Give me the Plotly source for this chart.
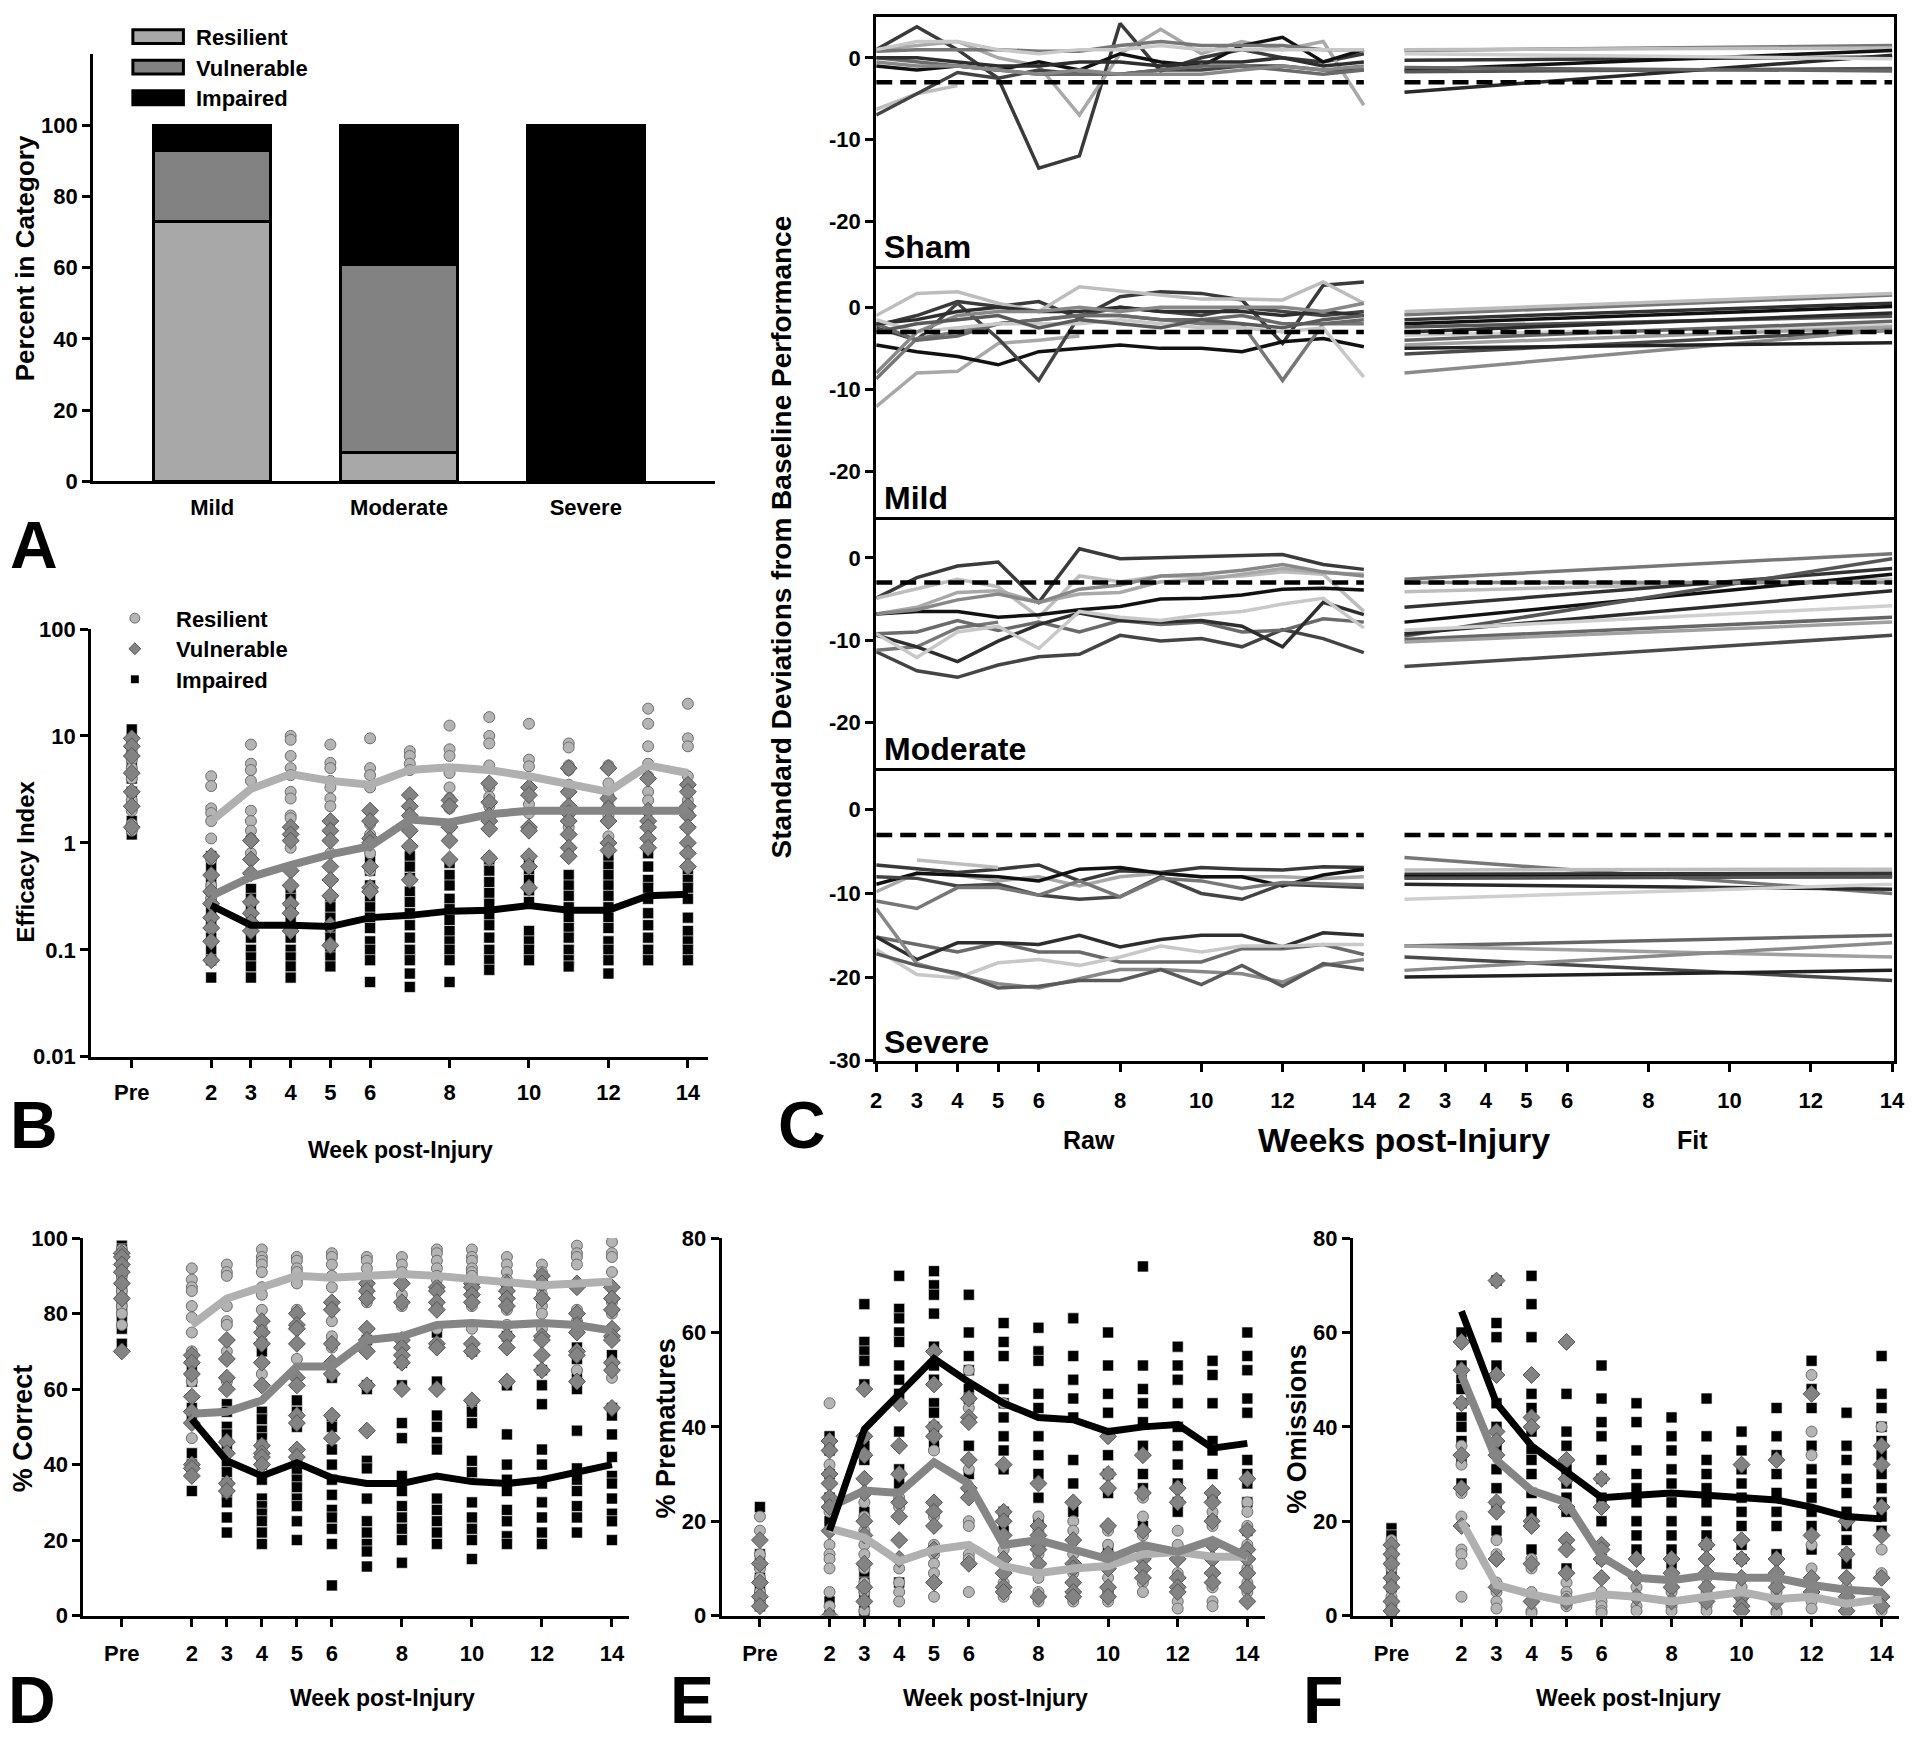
import plotly.graph_objects as go

W, H = 1920, 1739

# ======================= DATA =======================
# ---- Panel A: percent of animals per outcome category
injury_groups = ["Mild", "Moderate", "Severe"]
pct_resilient = [73, 8, 0]
pct_vulnerable = [20, 53, 0]
pct_impaired = [7, 39, 100]

# ---- shared week axis (0 = "Pre")
week_ticks = [0, 2, 3, 4, 5, 6, 8, 10, 12, 14]
week_ticktext = ["Pre", "2", "3", "4", "5", "6", "8", "10", "12", "14"]
weeks_all = [0, 2, 3, 4, 5, 6, 7, 8, 9, 10, 11, 12, 13, 14]
weeks_post = [2, 3, 4, 5, 6, 7, 8, 9, 10, 11, 12, 13, 14]

# ---- Panel B: Efficacy index (log)
b_mean_res = [1.6, 3.2, 4.4, 3.8, 3.5, 4.8, 5.1, 4.8, 4.2, 3.6, 3.0, 5.3, 4.5]
b_mean_vul = [0.32, 0.48, 0.62, 0.78, 0.93, 1.65, 1.55, 1.85, 2.0, 2.0, 2.0, 2.0, 2.0]
b_mean_imp = [0.26, 0.17, 0.17, 0.165, 0.2, 0.21, 0.23, 0.235, 0.26, 0.235, 0.235, 0.32, 0.33]
b_res = [
    [9, 7, 6, 5, 4, 3, 2.5, 2, 1.5, 1.3],
    [4.2, 3.4, 2.1, 1.9, 1.6, 1.1, 0.7, 0.4, 0.3],
    [8.3, 5.5, 4.8, 3.8, 2.0, 1.6, 1.3, 1.1, 0.8],
    [10, 9.2, 6.5, 5, 4.3, 3, 2.6, 1.8, 1.7, 1.2, 0.9],
    [8.3, 5.6, 5, 3.8, 3.3, 2.6, 2.2, 0.8],
    [9.5, 5, 4.3, 3.3, 1.5, 1.2, 0.8, 0.55],
    [7.2, 6.5, 5.5, 4.8, 2.8, 2.2],
    [12.5, 7.5, 6.5, 4.5, 3.3, 2.6, 2.1],
    [15, 10, 8.5, 5.3, 3.3, 2.7, 2.2],
    [13, 6, 5.2, 3.3, 2.8, 2.3, 1.9],
    [8.5, 7.8, 5.3, 4.8, 3.5, 2.2, 1.4],
    [5.3, 3.6, 2.8, 2.2, 1.8, 1.15],
    [18, 13, 8, 5.5, 4.2, 3, 2.5],
    [20, 9.5, 8, 4.2, 3.5, 2.5, 1.9],
]
b_vul = [
    [9.5, 8, 6.5, 4.5, 3, 2.2, 1.4],
    [0.75, 0.5, 0.35, 0.27, 0.2, 0.16, 0.12, 0.08],
    [1.05, 0.7, 0.52, 0.28, 0.22, 0.18, 0.15],
    [1.4, 1.2, 1.05, 0.55, 0.4, 0.27, 0.22, 0.15],
    [1.6, 1.3, 1.05, 0.6, 0.45, 0.32, 0.17, 0.11],
    [2.0, 1.6, 1.1, 1.0, 0.6, 0.38, 0.35],
    [2.8, 2.2, 1.8, 1.3, 0.93, 0.45],
    [2.5, 2.2, 1.4, 1.05, 0.7],
    [3.6, 2.4, 1.8, 1.6, 1.35, 0.72],
    [3.3, 2.8, 1.4, 1.3, 0.75, 0.6, 0.38],
    [5, 3, 2.2, 1.9, 1.6, 1.2, 0.9, 0.75],
    [5, 2.6, 2.1, 1.6, 1.0, 0.85],
    [4, 2, 1.6, 1.4, 1.1, 0.9],
    [3.5, 3, 2.2, 1.8, 1.4, 1.0, 0.8, 0.6],
]
b_imp = [
    [11.5, 9, 7, 5.5, 4, 3, 2.2, 1.6, 1.2],
    [0.75, 0.6, 0.45, 0.35, 0.28, 0.22, 0.17, 0.13, 0.1, 0.08, 0.055],
    [0.37, 0.3, 0.25, 0.2, 0.16, 0.13, 0.1, 0.085, 0.07, 0.055],
    [0.35, 0.3, 0.25, 0.2, 0.16, 0.13, 0.1, 0.085, 0.07, 0.055],
    [0.3, 0.25, 0.2, 0.16, 0.13, 0.1, 0.085, 0.07],
    [0.7, 0.55, 0.4, 0.3, 0.25, 0.2, 0.16, 0.12, 0.1, 0.08, 0.05],
    [0.75, 0.6, 0.47, 0.35, 0.28, 0.22, 0.17, 0.13, 0.1, 0.08, 0.06, 0.045],
    [0.65, 0.5, 0.4, 0.3, 0.24, 0.19, 0.15, 0.12, 0.1, 0.08, 0.05],
    [0.7, 0.55, 0.43, 0.34, 0.27, 0.21, 0.17, 0.13, 0.1, 0.08, 0.065],
    [0.7, 0.55, 0.45, 0.36, 0.28, 0.15, 0.12, 0.1, 0.08],
    [0.5, 0.4, 0.32, 0.25, 0.2, 0.16, 0.13, 0.1, 0.08, 0.07],
    [0.75, 0.6, 0.5, 0.4, 0.32, 0.25, 0.2, 0.16, 0.12, 0.1, 0.08, 0.06],
    [0.8, 0.6, 0.45, 0.38, 0.3, 0.22, 0.17, 0.13, 0.1, 0.08],
    [0.55, 0.45, 0.38, 0.3, 0.2, 0.15, 0.12, 0.1, 0.08],
]

# ---- Panel D: % Correct
d_mean_res = [77, 84, 87, 90, 89.5, 90, 90.5, 90, 89, 88, 87.5, 88, 88.5]
d_mean_vul = [53.5, 54, 57, 66, 66, 73, 74, 77, 77.5, 77, 77.5, 77, 75.5]
d_mean_imp = [52, 41, 37, 40.5, 36.5, 35, 35, 37, 35.5, 35, 36, 38, 40]
d_res = [
    [97, 96, 95, 94, 93, 92, 91, 90, 88, 86, 84, 82, 80, 77],
    [92, 89, 87, 86, 82, 79, 75, 70, 68, 62, 47],
    [93, 91, 90, 82, 78, 77, 70, 68, 62, 60],
    [97, 95, 94, 93, 91, 87, 85, 81, 78, 76, 67, 64, 61],
    [95, 94, 92, 91, 89, 88, 81, 80, 68, 63],
    [96, 95, 93, 90, 87, 82, 78, 74, 71, 67, 64],
    [95, 94, 92, 87, 85, 83],
    [95, 93, 91, 85, 83, 82],
    [97, 96, 94, 92, 90, 89, 86, 82, 76],
    [97, 95, 94, 92, 91, 90, 88, 86, 83, 82, 76],
    [95, 93, 91, 89, 87, 85, 83, 81, 77],
    [93, 91, 89, 87, 85, 82, 80, 76],
    [98, 96, 95, 93, 88, 87, 81, 78, 75, 65, 62],
    [99, 96, 95, 91, 87, 83, 80, 76, 73, 66, 63],
]
d_vul = [
    [96, 95, 93, 91, 88, 84, 70],
    [69, 67, 64, 58, 54, 51, 40, 39, 37],
    [73, 68, 63, 60, 46, 43, 35, 33],
    [78, 75, 72, 67, 61, 45, 43, 42, 40],
    [80, 77, 76, 72, 63, 61, 53, 51, 44, 42],
    [83, 81, 72, 67, 64, 53, 47],
    [88, 86, 84, 76, 73, 70, 61, 49],
    [88, 83, 73, 71, 69, 67, 60],
    [87, 86, 83, 81, 72, 71, 60],
    [88, 87, 85, 83, 72, 70, 57],
    [88, 86, 84, 82, 74, 71, 62],
    [90, 88, 84, 74, 73, 69, 65],
    [88, 87, 80, 77, 75, 70, 69, 62],
    [87, 84, 81, 76, 74, 73, 67, 65, 55],
]
d_imp = [
    [98, 97, 96, 95, 94, 92, 90, 88, 86, 84, 82, 80, 78, 76, 72],
    [65, 62, 55, 52, 43, 40, 33],
    [56, 54, 50, 48, 45, 40, 38, 35, 32, 30, 26, 22],
    [72, 70, 54, 52, 49, 47, 45, 43, 40, 36, 31, 29, 27, 25, 22, 19],
    [57, 54, 50, 40, 38, 36, 34, 31, 29, 25, 20],
    [72, 63, 52, 50, 44, 40, 36, 32, 28, 26, 23, 19, 8],
    [73, 61, 60, 41, 39, 31, 25, 22, 19, 17, 13],
    [67, 61, 51, 47, 37, 33, 29, 26, 23, 20, 14],
    [75, 62, 53, 50, 46, 44, 31, 28, 25, 22, 19],
    [70, 56, 54, 51, 41, 38, 30, 26, 23, 20, 15],
    [74, 61, 48, 40, 36, 33, 28, 25, 21, 19],
    [65, 61, 56, 44, 40, 35, 30, 26, 22, 19],
    [71, 68, 64, 60, 49, 39, 36, 33, 29, 26, 22],
    [69, 66, 55, 53, 48, 42, 37, 35, 31, 27, 25, 20],
]

# ---- Panel E: % Prematures
e_mean_res = [18.5, 16.5, 11.5, 14, 15, 10.5, 9, 10, 10.5, 13, 13.5, 12.5, 12.5]
e_mean_vul = [23, 26.5, 26, 32.5, 28, 15, 16, 14, 12, 15, 13.5, 16, 12.5]
e_mean_imp = [18, 39.5, 47, 54.5, 49.5, 45, 42, 41.5, 39, 40, 40.5, 35.5, 36.5]
e_res = [
    [21, 18, 13, 10, 8, 5, 3, 2],
    [45, 32, 22, 15, 13, 12, 10, 5, 2, 0],
    [38, 24, 21, 18, 15, 13, 10, 7, 5, 3, 1],
    [25, 23, 12, 10, 7, 5, 3],
    [35, 21, 15, 13, 11, 9, 7, 4],
    [52, 44, 31, 20, 19, 13, 12, 5],
    [45, 14, 9, 7, 6, 4],
    [21, 18, 16, 13, 8, 5, 3],
    [20, 18, 16, 13, 9, 7, 4, 3],
    [18, 15, 12, 8, 5, 4, 3],
    [25, 21, 17, 12, 10, 7, 5],
    [18, 15, 12, 9, 3, 1.5],
    [22, 19, 15, 12, 6, 3, 2],
    [24, 22, 19, 15, 10, 7, 5, 3],
]
e_vul = [
    [16, 11, 7, 4, 2],
    [37, 35, 30, 28, 25, 23, 18, 0],
    [48, 38, 34, 29, 26, 20, 17, 11, 6, 3],
    [45, 36, 30, 24, 21, 16, 12],
    [56, 49, 40, 38, 24, 22, 19, 14, 7],
    [46, 42, 41, 33, 27, 25, 11],
    [32, 22, 20, 17, 12, 9, 6, 5],
    [28, 19, 17, 15, 14, 11, 4],
    [24, 16, 11, 10, 7, 5, 4],
    [38, 30, 27, 19, 13, 10, 6, 4],
    [34, 26, 18, 14, 12, 10, 8],
    [27, 24, 12, 8, 6, 5],
    [26, 24, 20, 15, 12, 9, 7],
    [29, 18, 14, 12, 9, 6, 3],
]
e_imp = [
    [23, 13, 11, 8, 6, 4, 2],
    [38, 35, 30, 25, 20, 3, 0],
    [66, 58, 56, 54, 49, 36, 33, 22, 9, 7, 4, 1, 0],
    [72, 65, 63, 60, 58, 53, 50, 47, 39, 31, 28, 7],
    [73, 70, 68, 64, 57, 53, 50, 45, 43, 40, 36],
    [68, 60, 55, 52, 48, 46, 36, 30],
    [62, 58, 55, 48, 45, 42, 38, 35, 31, 22, 18],
    [61, 56, 54, 47, 44, 38, 34, 30, 25, 20],
    [63, 55, 50, 46, 42, 33, 28, 22],
    [60, 53, 47, 43, 34, 30, 26, 14],
    [74, 53, 48, 45, 41, 36, 30, 27, 19],
    [57, 53, 50, 45, 40, 36, 32, 28, 24, 22],
    [54, 51, 45, 37, 35, 30, 25, 20],
    [60, 55, 52, 46, 43, 33, 30, 28, 24, 18],
]

# ---- Panel F: % Omissions
f_mean_res = [20, 6.5, 4.5, 3, 4.5, 4, 3, 4, 5, 3.5, 4, 2.5, 3.5]
f_mean_vul = [51, 33, 26.5, 24, 12.5, 8, 7.5, 8.5, 8, 8, 6.5, 5.5, 5]
f_mean_imp = [64.5, 45, 36, 30.5, 25, 25.5, 26, 25.5, 25, 24.5, 23, 21, 20.5]
f_res = [
    [16, 14, 12, 10, 8, 6, 4, 2, 1],
    [52, 36, 32, 26, 21, 19, 14, 13, 11, 4],
    [16, 13, 12, 7, 5, 3, 1.5],
    [12, 10, 5, 3, 1, 0.5],
    [7, 5, 4, 2.5, 2],
    [5, 4, 3, 2, 1, 0.5],
    [6, 4, 2, 1],
    [5, 3, 2, 1],
    [8, 5, 2, 1],
    [8, 6, 3, 1.5],
    [7, 5, 3, 1, 0.5],
    [51, 39, 34, 15, 10, 8, 5, 3, 1.5],
    [6, 4, 3, 2, 1],
    [40, 17, 14, 9, 4, 2, 1],
]
f_vul = [
    [15, 13, 11, 8, 6, 3, 1],
    [58, 52, 45, 34, 27, 19],
    [71, 51, 39, 37, 34, 24, 22, 12, 6],
    [51, 42, 40, 20, 19, 11, 3],
    [58, 33, 29, 23, 16, 14, 9, 3],
    [29, 23, 15, 14, 12, 8],
    [12, 8, 4],
    [12, 9, 6, 3],
    [15, 12, 9, 6, 3],
    [32, 16, 12, 8, 4, 2, 1],
    [33, 12, 9, 6, 3],
    [47, 17, 8, 5],
    [20, 13, 8, 4, 1],
    [36, 32, 23, 17, 8, 4, 2],
]
f_imp = [
    [18.5, 17, 15, 12, 9, 6, 3, 1],
    [60, 53, 50, 48, 45, 42, 40, 37, 33, 28],
    [71, 62, 59, 53, 45, 40, 36, 31, 27, 23, 18],
    [72, 66, 59, 47, 44, 39, 35, 33, 30, 26, 22, 14],
    [47, 39, 36, 31, 28, 25, 22, 10],
    [53, 46, 41, 38, 33, 29, 25, 20, 12],
    [45, 41, 35, 30, 27, 24, 20, 17, 14],
    [42, 38, 35, 31, 28, 24, 20, 17, 14, 11],
    [46, 38, 33, 30, 27, 24, 20, 17, 15],
    [39, 35, 31, 28, 25, 22, 19, 15, 12],
    [44, 38, 34, 30, 26, 22, 19, 13],
    [54, 48, 44, 36, 31, 28, 25, 22, 19, 14],
    [43, 36, 33, 29, 26, 22, 19, 16, 13, 11],
    [55, 47, 44, 40, 37, 34, 30, 27, 24, 21, 18],
]

# ---- Panel C: SD from baseline, individual animals (raw weeks 2..14, and linear fits)
c_weeks = [2, 3, 4, 5, 6, 7, 8, 9, 10, 11, 12, 13, 14]
c_fit_weeks = [2, 14]
c_threshold = -3
N = None
sham_raw = [
    [1, 3.8, 1, -2.5, -13.5, -12, 4.2, -1.6, 0, 1, 0, -0.5, 0.5],
    [-6.3, -4.4, -3.4, N, N, N, N, N, N, N, N, N, N],
    [1, 1.5, 2, 0, -1, -7, 0.5, 3.5, 0.5, 2, 1, 2, -5.8],
    [-1, -1.5, -1, -1.5, -0.5, -1.5, 0.5, -0.5, -1, 1.5, 2.5, -0.5, 1],
    [-7, -4.4, -1.8, -2.5, -1.5, -2, -2, -1.5, -1.5, -1, -1, -1.5, -1.5],
    [0.8, 1, 1, 1, 0.8, 0.8, 1.5, 2, 1.5, 1.5, 1.5, 1, 1],
    [0, -0.5, -1, -1.5, -2, -2, -2, -1.5, -1, -1, -1.5, -2, -1.5],
    [0, 0, -0.5, -1, -1, -0.5, -0.5, -1, -0.5, -0.5, 0, -1, -0.5],
    [1, 2, 2, 1, 0.5, 1, 1, 1.5, 1, 1, 1, 1, 1],
    [-0.5, -1, -1, -1.5, -2, -1.5, -2, -2, -2, -1.5, -1, -1.5, -1],
]
sham_fit = [[0.9, 1.5], [1.0, 1.2], [-0.3, 0.1], [-1.5, 0.9], [-1.7, -1.3], [-4.2, 0.3], [0.5, -0.1], [-1.2, -1.6]]
mild_raw = [
    [-2.2, -1, 0.7, 0.1, 0.7, -1.3, 1.3, 1.9, 1.7, 0.9, -4.4, 2.7, 3.1],
    [-1, 1.7, 1.9, 0.5, -0.5, 2.5, 2, 1.5, 1, 1, 0.9, 3.1, 0.5],
    [-12.1, -8, -7.8, -4.4, -4, -3.5, N, N, N, N, N, N, N],
    [-4.6, -5.4, -6, -7, -5.4, -5, -4.6, -5, -5, -5.4, -4.2, -3.8, -4.8],
    [-2.5, -4, 0.5, -3.8, -8.9, -1, 0, -0.5, -1, 0, -0.5, -1, -0.5],
    [-8.7, -3.8, -3, -2, -1.5, -1, -1, -1.5, -2, -2, -8.9, -2, -2],
    [-2, -4, -3.5, -2, -1.5, -1, -1, -1.5, -1.5, -1, -2, -2, -1.5],
    [-2, -1.5, -0.5, 0, -0.5, -0.5, 0, -0.5, -0.5, -0.5, -1, -0.5, -1],
    [-1.5, -3, -2.5, -2, -2, -2, -1.5, -2, -2.5, -2.5, -3, -2.5, -8.5],
    [-8, -3, -1, -0.5, -0.5, 0, -0.5, 0, 0, 0, 0, -0.5, 0.5],
    [-3, -2, -1.5, -1, -2.5, -1.5, -2, -2.5, -1.5, -2, -2.5, -1.5, -1],
]
mild_fit = [[-0.9, 1.5], [-0.5, 1.7], [-1.5, 0.5], [-2, 0.1], [-2.4, -1.1], [-3, -0.7], [-3.4, -2.2],
            [-4, -1.7], [-4.6, -2.4], [-5.7, -2.8], [-8, -2.7], [-5, -4.3]]
mod_raw = [
    [-4.9, -2.4, -1, -0.5, -5.4, 1.1, -0.1, 0, 0.1, 0.2, 0.4, -0.8, -1.4],
    [-4.9, -3.8, -2.6, -3.5, -7.2, -2.2, -2.9, -2.2, -2.4, -2.2, -1.7, -2, -6.5],
    [-6.8, -6, -4.2, -4, -5.4, -4.4, -4.2, -2.9, -2.7, -2, -1.3, -1.8, -2],
    [-6.8, -6.5, -6.5, -7.2, -6.9, -6.3, -5.9, -5, -4.9, -4.5, -3.8, -3.7, -3.9],
    [-11.4, -13.7, -14.5, -13, -12, -11.7, -9.4, -10.1, -9.8, -10.8, -8.7, -9.8, -11.5],
    [-11.2, -10.8, -8.5, -7.8, N, N, N, N, N, N, N, N, N],
    [-9.2, -9, -7.6, -8.8, -7.8, -9, -7.6, -8.1, -7.8, -9, -8.8, -7.4, -7.8],
    [-9.4, -10.8, -12.6, -10.1, -8.1, -6.7, -7.6, -7.8, -7.6, -8.3, -10.8, -5.4, -6.9],
    [-9.2, -12.1, -9, -8.3, -11, -6.5, -7.2, -7.6, -6.9, -6.5, -5.6, -4.9, -8.5],
    [-6.8, -6.3, -5.1, -4.4, -5.4, -3.8, -3.3, -2.2, -2, -1.5, -0.8, -1.7, -2.2],
]
mod_fit = [[-2.6, 0.5], [-4.1, -2.6], [-6, -1.3], [-7.8, -2], [-9.5, -0.1], [-9.2, -4],
           [-8.8, -5.8], [-9.9, -7.2], [-10.2, -7.8], [-13.2, -9.4], [-3, -3]]
sev_raw = [
    [-6.6, -7, -7.5, -7.1, -6.6, -8.5, -7.3, -7.5, -6.9, -7.1, -7.2, -6.8, -6.9],
    [N, -6, -6.4, -6.9, N, N, N, N, N, N, N, N, N],
    [-9.8, -7.6, -7.8, -8.5, -8, -9.1, -8, -7.6, -8, -8, -8, -8.2, -8],
    [-8.9, -7.6, -7.8, -8, -8.5, -7.1, -6.9, -7.6, -8, -8, -9.1, -7.8, -7.1],
    [-8, -8.2, -9.1, -8.9, -10.2, -10.7, -10.4, -8, -10, -10.7, -8.9, -9.1, -9.3],
    [-10.9, -11.8, -9.3, -9.3, -10.2, -8.5, -10.4, -8.2, -8.5, -9.4, -8.7, -8.9, -9],
    [-15.2, -16.1, -17, -15.9, -17, -17, -18.2, -18.2, -18.2, -16.6, -16.6, -16.1, -17.3],
    [-15.2, -17.9, -15.9, -15.9, -16.1, -15, -16.4, -15.5, -15, -15, -16.4, -14.7, -15],
    [-16.7, -19.7, -20.1, -18.3, -17.9, -18.6, -17.6, -16.3, -17, -16.3, -16.3, -16.1, -16.1],
    [-11.8, -18.4, -19.7, -20.8, -21.3, -20.2, -19.1, -19.1, -19.4, -19.6, -20.6, -18.6, -17.9],
    [-17.2, -18.6, -19.5, -21.3, -21.1, -20.4, -20.4, -19.1, -20.9, -18.6, -21.1, -18.4, -19.1],
]
sev_fit = [[-5.7, -10], [-7.2, -7.1], [-7.7, -7.6], [-8, -8], [-8.2, -8], [-8.9, -9.5], [-10.7, -8.9],
           [-16.3, -15], [-16.3, -17.6], [-17.6, -20.4], [-19.2, -15.9], [-20, -19.2]]

# ======================= STYLE =======================
FONT = "Liberation Sans, Arial, sans-serif"
RES_FILL, RES_EDGE, RES_LINE = "#b4b4b4", "#6e6e6e", "#b0b0b0"
VUL_FILL, VUL_EDGE, VUL_LINE = "#838383", "#555555", "#858585"
IMP = "#000000"
C_OFF = 13.0  # horizontal offset of the "Fit" block on panel C's x axis
raw_cols = ["#3a3a3a", "#bdbdbd", "#a8a8a8", "#111111", "#444444", "#777777",
            "#6a6a6a", "#2e2e2e", "#c8c8c8", "#888888", "#5a5a5a", "#999999"]
fit_cols = ["#777777", "#bdbdbd", "#333333", "#111111", "#555555", "#2a2a2a",
            "#cfcfcf", "#666666", "#a0a0a0", "#4a4a4a", "#8a8a8a", "#222222"]


def fx(p):
    return p / W


def fy(p):
    return 1 - p / H


fig = go.Figure()

# ---------------- Panel A ----------------
cat_x = list(range(len(injury_groups)))
for vals, col in [(pct_resilient, "#a8a8a8"), (pct_vulnerable, "#828282"), (pct_impaired, "#000000")]:
    fig.add_trace(go.Bar(x=cat_x, y=vals, width=0.625, marker=dict(color=col, line=dict(color="black", width=3)),
                         xaxis="x", yaxis="y", showlegend=False, hoverinfo="skip"))


# ---------------- scatter panels ----------------
def add_scatter_panel(res, vul, imp, m_res, m_vul, m_imp, xa, ya, msize=11):
    def flat(pts):
        xs, ys = [], []
        for w, vals in zip(weeks_all, pts):
            xs.extend([w] * len(vals))
            ys.extend(vals)
        return xs, ys
    x, y = flat(imp)
    fig.add_trace(go.Scatter(x=x, y=y, mode="markers", xaxis=xa, yaxis=ya, showlegend=False, hoverinfo="skip",
                             marker=dict(symbol="square", size=msize, color=IMP,
                                         line=dict(color="white", width=0.6))))
    x, y = flat(res)
    fig.add_trace(go.Scatter(x=x, y=y, mode="markers", xaxis=xa, yaxis=ya, showlegend=False, hoverinfo="skip",
                             marker=dict(symbol="circle", size=msize, color=RES_FILL,
                                         line=dict(color=RES_EDGE, width=1))))
    x, y = flat(vul)
    fig.add_trace(go.Scatter(x=x, y=y, mode="markers", xaxis=xa, yaxis=ya, showlegend=False, hoverinfo="skip",
                             marker=dict(symbol="diamond", size=msize + 2, color=VUL_FILL,
                                         line=dict(color=VUL_EDGE, width=1))))
    for m, col, wd in [(m_res, RES_LINE, 8), (m_vul, VUL_LINE, 8), (m_imp, IMP, 7)]:
        fig.add_trace(go.Scatter(x=weeks_post, y=m, mode="lines", xaxis=xa, yaxis=ya, showlegend=False,
                                 hoverinfo="skip", line=dict(color=col, width=wd)))


add_scatter_panel(b_res, b_vul, b_imp, b_mean_res, b_mean_vul, b_mean_imp, "x2", "y2", msize=11)
add_scatter_panel(d_res, d_vul, d_imp, d_mean_res, d_mean_vul, d_mean_imp, "x7", "y7")
add_scatter_panel(e_res, e_vul, e_imp, e_mean_res, e_mean_vul, e_mean_imp, "x8", "y8")
add_scatter_panel(f_res, f_vul, f_imp, f_mean_res, f_mean_vul, f_mean_imp, "x9", "y9")

# ---------------- Panel C ----------------
for raw, fit, xa, ya in [(sham_raw, sham_fit, "x3", "y3"), (mild_raw, mild_fit, "x4", "y4"),
                         (mod_raw, mod_fit, "x5", "y5"), (sev_raw, sev_fit, "x6", "y6")]:
    for i, vals in enumerate(raw):
        fig.add_trace(go.Scatter(x=c_weeks, y=vals, mode="lines", xaxis=xa, yaxis=ya, showlegend=False,
                                 hoverinfo="skip", connectgaps=False,
                                 line=dict(color=raw_cols[i % len(raw_cols)], width=3.5)))
    for i, (s, e) in enumerate(fit):
        fig.add_trace(go.Scatter(x=[w + C_OFF for w in c_fit_weeks], y=[s, e], mode="lines", xaxis=xa, yaxis=ya,
                                 showlegend=False, hoverinfo="skip",
                                 line=dict(color=fit_cols[i % len(fit_cols)], width=3.5)))
    for xs in (c_fit_weeks, [w + C_OFF for w in c_fit_weeks]):
        fig.add_trace(go.Scatter(x=xs, y=[c_threshold, c_threshold], mode="lines", xaxis=xa, yaxis=ya,
                                 showlegend=False, hoverinfo="skip",
                                 line=dict(color="black", width=4.5, dash="16px,8px")))

# ======================= LAYOUT =======================
TICKFONT = dict(family=FONT, size=22, color="black", weight="bold")
BASE = dict(showline=True, linecolor="black", linewidth=3, ticks="outside", ticklen=8, tickwidth=3,
            tickcolor="black", showgrid=False, zeroline=False, tickfont=TICKFONT)


def ax(**kw):
    d = dict(BASE)
    d.update(kw)
    return d


layout = dict(width=W, height=H, margin=dict(l=0, r=0, t=0, b=0), plot_bgcolor="white", paper_bgcolor="white",
              showlegend=False, barmode="stack")

# A
layout["xaxis"] = ax(domain=[fx(88), fx(715)], range=[-0.637, 2.69], anchor="y", tickvals=cat_x,
                     ticktext=injury_groups, ticks="", ticklabelstandoff=4)
layout["yaxis"] = ax(domain=[fy(476), fy(43)], range=[0, 120], anchor="x", tickvals=[0, 20, 40, 60, 80, 100])
# B
layout["xaxis2"] = ax(domain=[fx(86), fx(708)], range=[-1.02, 14.5], anchor="y2", tickvals=week_ticks,
                      ticktext=week_ticktext, ticklabelstandoff=6)
layout["yaxis2"] = ax(domain=[fy(1060), fy(626)], type="log", range=[-2, 2], anchor="x2",
                      tickvals=[0.01, 0.1, 1, 10, 100], ticktext=["0.01", "0.1", "1", "10", "100"])
# C
c_tickvals = [2, 3, 4, 5, 6, 8, 10, 12, 14]
c_bounds = [(5, 258, [-25.5, 5], [0, -10, -20]), (258, 512, [-25.5, 5], [0, -10, -20]),
            (512, 767, [-25.5, 5], [0, -10, -20]), (767, 1064, [-30, 5], [0, -10, -20, -30])]
for k, (top, bot, rng, tv) in enumerate(c_bounds):
    n = 3 + k
    bottom = (k == 3)
    layout[f"xaxis{n}"] = ax(domain=[fx(878), fx(1905)], range=[2, 27.05], anchor=f"y{n}", mirror=(k == 0),
                             tickvals=(c_tickvals + [v + C_OFF for v in c_tickvals]) if bottom else [],
                             ticktext=[str(v) for v in c_tickvals] * 2 if bottom else [],
                             ticks="outside" if bottom else "", showticklabels=bottom, ticklabelstandoff=10)
    layout[f"yaxis{n}"] = ax(domain=[fy(bot), fy(top)], range=rng, anchor=f"x{n}", mirror=True, tickvals=tv,
                             ticktext=[str(v) for v in tv])
# D, E, F
for n, (l, r), rng, tv in [(7, (78, 629), [0, 100], [0, 20, 40, 60, 80, 100]),
                           (8, (722, 1270), [0, 80], [0, 20, 40, 60, 80]),
                           (9, (1359, 1910), [0, 80], [0, 20, 40, 60, 80])]:
    layout[f"xaxis{n}"] = ax(domain=[fx(l), fx(r)], range=[-1.1, 14.5], anchor=f"y{n}", tickvals=week_ticks,
                             ticktext=week_ticktext, ticklabelstandoff=8)
    layout[f"yaxis{n}"] = ax(domain=[fy(1627), fy(1244)], range=rng, anchor=f"x{n}", tickvals=tv)

fig.update_layout(**layout)

# ---------------- annotations ----------------
ann = []


def text(t, x, y, size, angle=0, xanchor="center", yanchor="middle"):
    ann.append(dict(text=t, x=fx(x), y=fy(y), xref="paper", yref="paper", showarrow=False, textangle=angle,
                    xanchor=xanchor, yanchor=yanchor, font=dict(family=FONT, size=size, color="black",
                                                                weight="bold")))


text("Percent in Category", 20, 250, 26, angle=-90)
text("A", 28, 541, 66)
text("Efficacy Index", 20, 862, 24, angle=-90)
text("B", 28, 1129, 66)
text("Week post-Injury", 398, 1155, 23)
text("Standard Deviations from Baseline Performance", 782, 533, 28, angle=-90)
text("C", 803, 1129, 66)
text("Raw", 1093, 1144, 25)
text("Weeks post-Injury", 1410, 1144, 34)
text("Fit", 1702, 1144, 25)
for lab, yy in [("Sham", 238), ("Mild", 493), ("Moderate", 748), ("Severe", 1045)]:
    text(lab, 884, yy, 32, xanchor="left")
text("% Correct", 17, 1437, 27, angle=-90)
text("% Prematures", 666, 1437, 27, angle=-90)
text("% Omissions", 1303, 1437, 27, angle=-90)
text("D", 26, 1713, 66)
text("E", 692, 1713, 66)
text("F", 1329, 1713, 66)
text("Week post-Injury", 380, 1711, 23)
text("Week post-Injury", 998, 1711, 23)
text("Week post-Injury", 1637, 1711, 23)

# legend A (swatches)
shapes = []
for i, (lab, col) in enumerate([("Resilient", "#a8a8a8"), ("Vulnerable", "#828282"), ("Impaired", "#000000")]):
    yc = 25 + i * 31
    shapes.append(dict(type="rect", xref="paper", yref="paper", x0=fx(128), x1=fx(179), y0=fy(yc + 7),
                       y1=fy(yc - 7), fillcolor=col, line=dict(color="black", width=3)))
    text(lab, 190, yc + 1, 22, xanchor="left")

# legend B (marker swatches)
bx = 130
for i, lab in enumerate(["Resilient", "Vulnerable", "Impaired"]):
    yc = 615 + i * 31
    if i == 0:
        shapes.append(dict(type="circle", xref="paper", yref="paper", x0=fx(bx - 5), x1=fx(bx + 5),
                           y0=fy(yc + 5), y1=fy(yc - 5), fillcolor=RES_FILL, line=dict(color=RES_EDGE, width=1)))
    elif i == 1:
        shapes.append(dict(type="path", xref="paper", yref="paper",
                           path=f"M {fx(bx)} {fy(yc - 6)} L {fx(bx + 6)} {fy(yc)} L {fx(bx)} {fy(yc + 6)} "
                                f"L {fx(bx - 6)} {fy(yc)} Z",
                           fillcolor=VUL_FILL, line=dict(color=VUL_EDGE, width=1)))
    else:
        shapes.append(dict(type="rect", xref="paper", yref="paper", x0=fx(bx - 4), x1=fx(bx + 4),
                           y0=fy(yc + 4), y1=fy(yc - 4), fillcolor="black", line=dict(width=0)))
    text(lab, 169, yc + 1, 22, xanchor="left")

fig.update_layout(annotations=ann, shapes=shapes)
fig.write_html("out.html", config={"displayModeBar": False},
               post_script="document.documentElement.style.margin='0';document.body.style.margin='0';"
                           "document.documentElement.style.overflow='hidden';document.body.style.overflow='hidden';")
